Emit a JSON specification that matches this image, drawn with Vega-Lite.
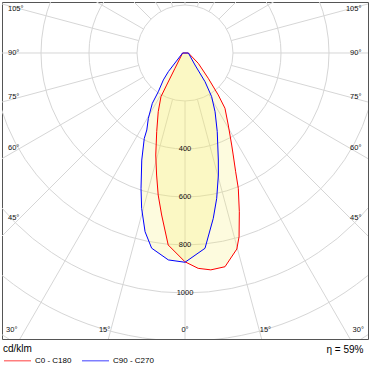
{
  "$schema": "https://vega.github.io/schema/vega-lite/v6.json",
  "width": 366,
  "height": 337,
  "autosize": {"type": "none"},
  "padding": {"left": 2, "top": 2, "right": 4, "bottom": 32},
  "background": "white",
  "config": {
    "view": {"stroke": "#555555", "strokeWidth": 1},
    "font": "Liberation Sans"
  },
  "datasets": {
    "rings": [{"r": 200}, {"r": 400}, {"r": 600}, {"r": 800}, {"r": 1000}, {"r": 1200}, {"r": 1400}],
    "spokes": [
      {"a": 0}, {"a": 15}, {"a": 30}, {"a": 45}, {"a": 60}, {"a": 75}, {"a": 90}, {"a": 105}, {"a": 120}, {"a": 135}, {"a": 150}, {"a": 165}, {"a": 180},
      {"a": -15}, {"a": -30}, {"a": -45}, {"a": -60}, {"a": -75}, {"a": -90}, {"a": -105}, {"a": -120}, {"a": -135}, {"a": -150}, {"a": -165}
    ],
    "curves": [
      {"s": "C0 - C180", "a": -90, "I": 10},
      {"s": "C0 - C180", "a": -33.2, "I": 76},
      {"s": "C0 - C180", "a": -29.8, "I": 154},
      {"s": "C0 - C180", "a": -28.8, "I": 208},
      {"s": "C0 - C180", "a": -24.5, "I": 269},
      {"s": "C0 - C180", "a": -19.8, "I": 348},
      {"s": "C0 - C180", "a": -16.0, "I": 442},
      {"s": "C0 - C180", "a": -13.1, "I": 522},
      {"s": "C0 - C180", "a": -10.7, "I": 602},
      {"s": "C0 - C180", "a": -8.2, "I": 682},
      {"s": "C0 - C180", "a": -5.0, "I": 803},
      {"s": "C0 - C180", "a": 0, "I": 870},
      {"s": "C0 - C180", "a": 3.5, "I": 899},
      {"s": "C0 - C180", "a": 6.8, "I": 910},
      {"s": "C0 - C180", "a": 10.6, "I": 906},
      {"s": "C0 - C180", "a": 14.8, "I": 845},
      {"s": "C0 - C180", "a": 16.4, "I": 798},
      {"s": "C0 - C180", "a": 18.9, "I": 699},
      {"s": "C0 - C180", "a": 21.5, "I": 606},
      {"s": "C0 - C180", "a": 23.1, "I": 538},
      {"s": "C0 - C180", "a": 25.3, "I": 470},
      {"s": "C0 - C180", "a": 26.9, "I": 430},
      {"s": "C0 - C180", "a": 31.0, "I": 350},
      {"s": "C0 - C180", "a": 35.9, "I": 284},
      {"s": "C0 - C180", "a": 38.4, "I": 223},
      {"s": "C0 - C180", "a": 42.6, "I": 143},
      {"s": "C0 - C180", "a": 52.2, "I": 70},
      {"s": "C0 - C180", "a": 90, "I": 14},
      {"s": "C90 - C270", "a": -90, "I": 10},
      {"s": "C90 - C270", "a": -41.8, "I": 104},
      {"s": "C90 - C270", "a": -38.8, "I": 144},
      {"s": "C90 - C270", "a": -34.6, "I": 196},
      {"s": "C90 - C270", "a": -33.0, "I": 250},
      {"s": "C90 - C270", "a": -29.3, "I": 312},
      {"s": "C90 - C270", "a": -26.4, "I": 358},
      {"s": "C90 - C270", "a": -25.5, "I": 394},
      {"s": "C90 - C270", "a": -22.0, "I": 481},
      {"s": "C90 - C270", "a": -18.0, "I": 593},
      {"s": "C90 - C270", "a": -15.6, "I": 672},
      {"s": "C90 - C270", "a": -12.6, "I": 763},
      {"s": "C90 - C270", "a": -9.7, "I": 825},
      {"s": "C90 - C270", "a": -4.6, "I": 865},
      {"s": "C90 - C270", "a": 0, "I": 872},
      {"s": "C90 - C270", "a": 5.85, "I": 818},
      {"s": "C90 - C270", "a": 9.7, "I": 699},
      {"s": "C90 - C270", "a": 12.3, "I": 620},
      {"s": "C90 - C270", "a": 15.3, "I": 527},
      {"s": "C90 - C270", "a": 17.3, "I": 467},
      {"s": "C90 - C270", "a": 22.3, "I": 354},
      {"s": "C90 - C270", "a": 27.1, "I": 275},
      {"s": "C90 - C270", "a": 31.4, "I": 213},
      {"s": "C90 - C270", "a": 34.9, "I": 146},
      {"s": "C90 - C270", "a": 39.8, "I": 65},
      {"s": "C90 - C270", "a": 90, "I": 14}
    ],
    "sideLabels": [
      {"g": 105, "t": "105°"}, {"g": 90, "t": "90°"}, {"g": 75, "t": "75°"}, {"g": 60, "t": "60°"}, {"g": 45, "t": "45°"}
    ],
    "bottomLabels": [
      {"g": -30, "t": "30°"}, {"g": -15, "t": "15°"}, {"g": 0, "t": "0°"}, {"g": 15, "t": "15°"}, {"g": 30, "t": "30°"}
    ],
    "ringLabels": [{"r": 400}, {"r": 600}, {"r": 800}, {"r": 1000}]
  },
  "encoding": {
    "x": {
      "field": "x",
      "type": "quantitative",
      "scale": {"domain": [-762.5, 762.5], "nice": false, "zero": false},
      "axis": {
        "domain": false, "ticks": false, "labels": false, "grid": false,
        "title": "η = 59%", "titleFont": "Liberation Sans", "titleFontSize": 10,
        "titleFontWeight": "normal", "titleColor": "#000000",
        "titlePadding": 5, "titleX": 361, "titleAlign": "right", "titleAnchor": "end"
      }
    },
    "y": {
      "field": "y",
      "type": "quantitative",
      "scale": {"domain": [-1191.667, 212.5], "nice": false, "zero": false},
      "axis": null
    }
  },
  "layer": [
    {
      "data": {"name": "rings"},
      "transform": [
        {"calculate": "0", "as": "x"},
        {"calculate": "0", "as": "y"}
      ],
      "mark": {"type": "point", "shape": "circle", "filled": false, "stroke": "#d6d6d6", "fill": null, "strokeWidth": 1, "opacity": 1, "clip": true},
      "encoding": {
        "size": {"field": "r", "type": "quantitative", "scale": {"type": "pow", "exponent": 2, "domain": [0, 1000], "range": [0, 230400], "clamp": false}, "legend": null}
      }
    },
    {
      "data": {"name": "spokes"},
      "transform": [
        {"calculate": "200*sin(datum.a*PI/180)", "as": "x"},
        {"calculate": "-200*cos(datum.a*PI/180)", "as": "y"},
        {"calculate": "1500*sin(datum.a*PI/180)", "as": "x2"},
        {"calculate": "-1500*cos(datum.a*PI/180)", "as": "y2"}
      ],
      "mark": {"type": "rule", "stroke": "#d6d6d6", "strokeWidth": 1, "clip": true},
      "encoding": {"x2": {"field": "x2"}, "y2": {"field": "y2"}}
    },
    {
      "data": {"name": "curves"},
      "transform": [
        {"calculate": "datum.I*sin(datum.a*PI/180)", "as": "x"},
        {"calculate": "-datum.I*cos(datum.a*PI/180)", "as": "y"}
      ],
      "mark": {"type": "line", "interpolate": "linear-closed", "fill": "#f6ee6a", "fillOpacity": 0.22, "strokeOpacity": 0, "clip": true},
      "encoding": {
        "detail": {"field": "s", "type": "nominal"},
        "order": {"field": "a", "type": "quantitative"}
      }
    },
    {
      "data": {"name": "curves"},
      "transform": [
        {"calculate": "datum.I*sin(datum.a*PI/180)", "as": "x"},
        {"calculate": "-datum.I*cos(datum.a*PI/180)", "as": "y"}
      ],
      "mark": {"type": "line", "interpolate": "linear-closed", "strokeWidth": 1, "clip": true},
      "encoding": {
        "color": {
          "field": "s", "type": "nominal",
          "scale": {"domain": ["C0 - C180", "C90 - C270"], "range": ["#ff0000", "#0000ff"]},
          "legend": {
            "orient": "none", "legendX": 1, "legendY": 342, "direction": "horizontal",
            "title": "cd/klm", "titleFont": "Liberation Sans", "titleFontSize": 10, "titleFontWeight": "normal", "titleColor": "#000000",
            "titlePadding": -8,
            "symbolType": "stroke", "symbolSize": 729, "symbolStrokeWidth": 1.5, "symbolOpacity": 0.5,
            "labelFont": "Liberation Sans", "labelFontSize": 8, "labelColor": "#000000", "labelOffset": 3,
            "columnPadding": 7, "padding": 0
          }
        },
        "order": {"field": "a", "type": "quantitative"}
      }
    },
    {
      "data": {"name": "ringLabels"},
      "transform": [
        {"calculate": "0", "as": "x"},
        {"calculate": "-datum.r", "as": "y"}
      ],
      "mark": {"type": "text", "font": "Liberation Sans", "fontSize": 7.5, "fill": "#111111", "align": "center", "baseline": "middle"},
      "encoding": {"text": {"field": "r", "type": "nominal"}}
    },
    {
      "data": {"name": "sideLabels"},
      "transform": [
        {"calculate": "-737.5", "as": "x"},
        {"calculate": "-687.5*cos(datum.g*PI/180)/sin(datum.g*PI/180)", "as": "y"}
      ],
      "mark": {"type": "text", "font": "Liberation Sans", "fontSize": 7.5, "fill": "#111111", "align": "left", "baseline": "middle"},
      "encoding": {"text": {"field": "t", "type": "nominal"}}
    },
    {
      "data": {"name": "sideLabels"},
      "transform": [
        {"calculate": "735", "as": "x"},
        {"calculate": "-687.5*cos(datum.g*PI/180)/sin(datum.g*PI/180)", "as": "y"}
      ],
      "mark": {"type": "text", "font": "Liberation Sans", "fontSize": 7.5, "fill": "#111111", "align": "right", "baseline": "middle"},
      "encoding": {"text": {"field": "t", "type": "nominal"}}
    },
    {
      "data": {"name": "bottomLabels"},
      "transform": [
        {"calculate": "1250*tan(datum.g*PI/180)", "as": "x"},
        {"calculate": "-1154", "as": "y"}
      ],
      "mark": {"type": "text", "font": "Liberation Sans", "fontSize": 7.5, "fill": "#111111", "align": "center", "baseline": "middle"},
      "encoding": {"text": {"field": "t", "type": "nominal"}}
    }
  ]
}
